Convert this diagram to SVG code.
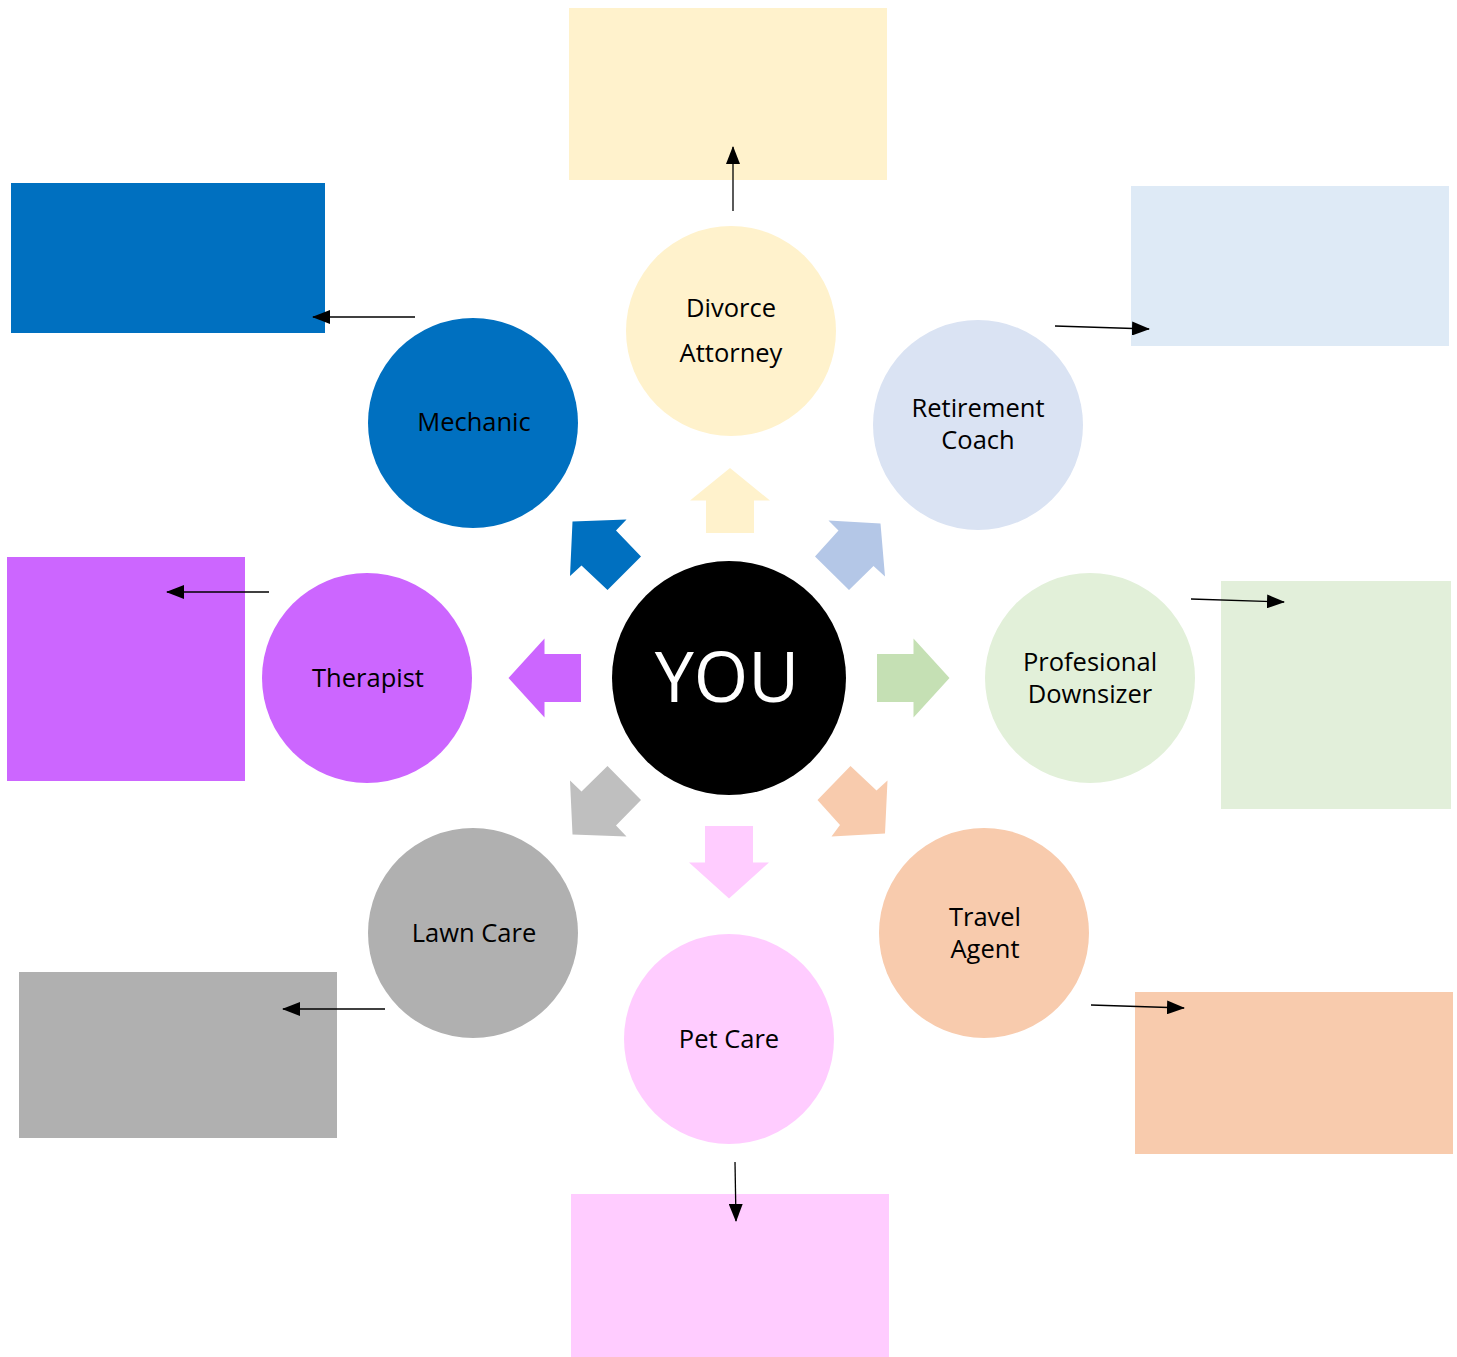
<svg xmlns="http://www.w3.org/2000/svg" width="1457" height="1357" viewBox="0 0 1457 1357">
<defs>
<style>
.lbl{font-family:"Open Sans","Liberation Sans",sans-serif;font-size:25.5px;fill:#000;text-anchor:middle}
.you{font-family:"Open Sans","Liberation Sans",sans-serif;font-size:70px;fill:#fff;text-anchor:middle}
.conn{stroke:#000;stroke-width:1.3;fill:none;marker-end:url(#ah)}
</style>
<marker id="ah" markerUnits="userSpaceOnUse" markerWidth="18" markerHeight="14" refX="17" refY="7" orient="auto">
<path d="M0,0 L18,7 L0,14 Z" fill="#000"/>
</marker>
</defs>
<rect width="1457" height="1357" fill="#fff"/>
<g id="boxes">
<rect id="box-divorce" x="569" y="8" width="318" height="172" fill="#FFF2CC"/>
<rect id="box-mechanic" x="11" y="183" width="314" height="150" fill="#0070C0"/>
<rect id="box-retirement" x="1131" y="186" width="318" height="160" fill="#DEEAF6"/>
<rect id="box-therapist" x="7" y="557" width="238" height="224" fill="#CC66FF"/>
<rect id="box-downsizer" x="1221" y="581" width="230" height="228" fill="#E2EFDA"/>
<rect id="box-lawn" x="19" y="972" width="318" height="166" fill="#B0B0B0"/>
<rect id="box-travel" x="1135" y="992" width="318" height="162" fill="#F8CBAD"/>
<rect id="box-pet" x="571" y="1194" width="318" height="163" fill="#FFCCFF"/>
</g>
<g id="block-arrows">
<polygon points="730,468 770,500.5 754,500.5 754,533 706,533 706,500.5 690,500.5" fill="#FFF2CC"/>
<polygon points="705,826 753,826 753,862.5 769,862.5 729,898.5 689,862.5 705,862.5" fill="#FFCCFF"/>
<polygon points="508.5,678 544.5,638.5 544.5,654 581,654 581,702 544.5,702 544.5,717.5" fill="#CC66FF"/>
<polygon points="949.5,678 913.5,638.5 913.5,654 877,654 877,702 913.5,702 913.5,717.5" fill="#C5E0B4"/>
<polygon points="572.5,521.5 626.5,519.5 616,530.5 641,556.5 607.5,590 581.5,565.5 570,576" fill="#0070C0"/>
<polygon points="828.5,520.5 880.5,523.5 885,576.5 873.5,566 849,590 815,556.5 838.5,530.5" fill="#B4C7E7"/>
<polygon points="570,780.5 581.5,791.5 607.5,766 641,800 616,825.5 626.5,836.5 572.5,834.5" fill="#BFBFBF"/>
<polygon points="850.5,766 876.5,790.5 887.5,780.5 885,833.5 831.5,836.5 840,825 817.5,800" fill="#F8CBAD"/>
</g>
<g id="connectors">
<line class="conn" x1="733" y1="211" x2="733" y2="147"/>
<line class="conn" x1="415" y1="317" x2="313" y2="317"/>
<line class="conn" x1="1055" y1="326" x2="1149" y2="329"/>
<line class="conn" x1="1191" y1="599" x2="1284" y2="602"/>
<line class="conn" x1="269" y1="592" x2="167" y2="592"/>
<line class="conn" x1="385" y1="1009" x2="283" y2="1009"/>
<line class="conn" x1="1091" y1="1005" x2="1184" y2="1008"/>
<line class="conn" x1="735" y1="1162" x2="736" y2="1221"/>
</g>
<g id="node-you"><circle cx="729" cy="678" r="117" fill="#000"/><text class="you" x="727" y="702">YOU</text></g>
<g id="node-divorce"><circle cx="731" cy="331" r="105" fill="#FFF2CC"/><text class="lbl" x="731" y="317">Divorce</text><text class="lbl" x="731" y="362">Attorney</text></g>
<g id="node-retirement"><circle cx="978" cy="425" r="105" fill="#DAE3F3"/><text class="lbl" x="978" y="417">Retirement</text><text class="lbl" x="978" y="449">Coach</text></g>
<g id="node-mechanic"><circle cx="473" cy="423" r="105" fill="#0070C0"/><text class="lbl" x="474" y="431">Mechanic</text></g>
<g id="node-therapist"><circle cx="367" cy="678" r="105" fill="#CC66FF"/><text class="lbl" x="368" y="687">Therapist</text></g>
<g id="node-downsizer"><circle cx="1090" cy="678" r="105" fill="#E2F0D9"/><text class="lbl" x="1090" y="671">Profesional</text><text class="lbl" x="1090" y="703">Downsizer</text></g>
<g id="node-lawn"><circle cx="473" cy="933" r="105" fill="#B0B0B0"/><text class="lbl" x="474" y="942">Lawn Care</text></g>
<g id="node-pet"><circle cx="729" cy="1039" r="105" fill="#FFCCFF"/><text class="lbl" x="729" y="1048">Pet Care</text></g>
<g id="node-travel"><circle cx="984" cy="933" r="105" fill="#F8CBAD"/><text class="lbl" x="985" y="926">Travel</text><text class="lbl" x="985" y="958">Agent</text></g>
</svg>
